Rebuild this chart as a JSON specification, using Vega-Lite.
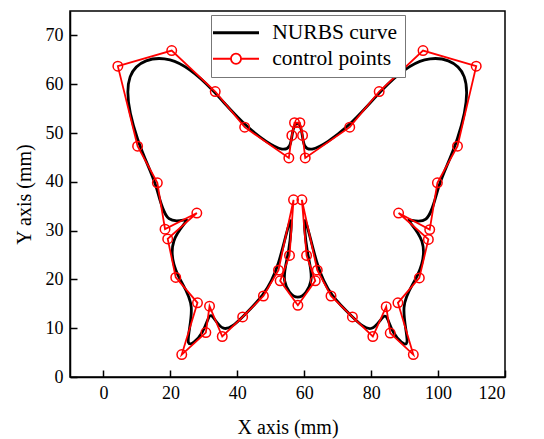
{
  "$schema": "https://vega.github.io/schema/vega-lite/v6.json",
  "width": 435,
  "height": 366,
  "autosize": "none",
  "padding": {"left": 70, "top": 11, "right": 39, "bottom": 62},
  "background": "white",
  "config": {
    "font": "Liberation Serif",
    "view": {"stroke": "black", "strokeWidth": 1.5},
    "axis": {
      "domainColor": "black",
      "domainWidth": 1.5,
      "tickColor": "black",
      "tickWidth": 1.5,
      "labelFont": "Liberation Serif",
      "labelFontSize": 18,
      "labelColor": "black",
      "titleFont": "Liberation Serif",
      "titleFontSize": 20,
      "titleFontWeight": "normal",
      "titleColor": "black",
      "grid": false
    }
  },
  "data": {
    "values": [
      {"i": 1, "x": 57.1, "y": 52.1},
      {"i": 2, "x": 56.3, "y": 49.5},
      {"i": 3, "x": 55.4, "y": 44.9},
      {"i": 4, "x": 42.2, "y": 51.2},
      {"i": 5, "x": 33.4, "y": 58.5},
      {"i": 6, "x": 20.4, "y": 66.9},
      {"i": 7, "x": 4.3, "y": 63.7},
      {"i": 8, "x": 10.2, "y": 47.3},
      {"i": 9, "x": 16.1, "y": 39.8},
      {"i": 10, "x": 18.4, "y": 30.3},
      {"i": 11, "x": 27.9, "y": 33.6},
      {"i": 12, "x": 19.2, "y": 28.3},
      {"i": 13, "x": 21.6, "y": 20.4},
      {"i": 14, "x": 28.1, "y": 15.2},
      {"i": 15, "x": 23.4, "y": 4.6},
      {"i": 16, "x": 30.6, "y": 9.1},
      {"i": 17, "x": 31.7, "y": 14.5},
      {"i": 18, "x": 35.5, "y": 8.3},
      {"i": 19, "x": 41.6, "y": 12.3},
      {"i": 20, "x": 47.8, "y": 16.6},
      {"i": 21, "x": 52.3, "y": 21.9},
      {"i": 22, "x": 56.8, "y": 36.3},
      {"i": 23, "x": 55.6, "y": 24.9},
      {"i": 24, "x": 52.8, "y": 19.7},
      {"i": 25, "x": 58.1, "y": 14.7},
      {"i": 26, "x": 63.3, "y": 19.7},
      {"i": 27, "x": 60.7, "y": 24.9},
      {"i": 28, "x": 59.3, "y": 36.3},
      {"i": 29, "x": 63.9, "y": 21.9},
      {"i": 30, "x": 68.0, "y": 16.6},
      {"i": 31, "x": 74.4, "y": 12.3},
      {"i": 32, "x": 80.5, "y": 8.3},
      {"i": 33, "x": 84.5, "y": 14.4},
      {"i": 34, "x": 85.7, "y": 9.0},
      {"i": 35, "x": 92.6, "y": 4.6},
      {"i": 36, "x": 88.0, "y": 15.2},
      {"i": 37, "x": 94.4, "y": 20.3},
      {"i": 38, "x": 97.1, "y": 28.2},
      {"i": 39, "x": 88.2, "y": 33.6},
      {"i": 40, "x": 97.5, "y": 30.2},
      {"i": 41, "x": 99.8, "y": 39.8},
      {"i": 42, "x": 105.8, "y": 47.3},
      {"i": 43, "x": 111.4, "y": 63.7},
      {"i": 44, "x": 95.5, "y": 66.9},
      {"i": 45, "x": 82.4, "y": 58.5},
      {"i": 46, "x": 73.6, "y": 51.2},
      {"i": 47, "x": 60.3, "y": 44.9},
      {"i": 48, "x": 59.5, "y": 49.5},
      {"i": 49, "x": 58.7, "y": 52.1}
    ]
  },
  "resolve": {"axis": {"x": "independent", "y": "independent"}},
  "layer": [
    {
      "mark": {"type": "line", "interpolate": "basis-closed", "strokeWidth": 2.8},
      "encoding": {
        "x": {
          "field": "x",
          "type": "quantitative",
          "scale": {"domain": [-10, 120], "nice": false, "zero": false},
          "axis": {"orient": "bottom", "values": [0, 20, 40, 60, 80, 100, 120], "title": "X axis (mm)", "ticks": false, "labelPadding": 7, "titlePadding": 15}
        },
        "y": {
          "field": "y",
          "type": "quantitative",
          "scale": {"domain": [0, 75], "nice": false},
          "axis": {"orient": "left", "values": [0, 10, 20, 30, 40, 50, 60, 70], "title": "Y axis (mm)", "ticks": false, "labelPadding": 7, "titlePadding": 11}
        },
        "order": {"field": "i", "type": "quantitative"},
        "color": {
          "datum": "NURBS curve",
          "type": "nominal",
          "scale": {"domain": ["NURBS curve", "control points"], "range": ["black", "#ff0000"]},
          "legend": {
            "title": null,
            "orient": "none",
            "legendX": 141,
            "legendY": 4,
            "strokeColor": "#777777",
            "fillColor": "white",
            "padding": 7,
            "labelFont": "Liberation Serif",
            "labelFontSize": 21.5,
            "labelColor": "black",
            "labelOffset": 25.5,
            "symbolOffset": 7.25,
            "symbolType": "M-1,0L1,0",
            "symbolSize": 2116,
            "symbolStrokeWidth": 3,
            "rowPadding": 3,
            "encode": {
              "legend": {
                "update": {
                  "stroke": {"value": "#777777"},
                  "strokeWidth": {"value": 1},
                  "fill": {"value": "white"}
                }
              },
              "symbols": {
                "update": {
                  "shape": {"signal": "datum.value === 'control points' ? 'M-1,0L-0.22,0M0.22,0L1,0M0.22,0A0.22,0.22,0,1,1,-0.22,0A0.22,0.22,0,1,1,0.22,0' : 'M-1,0L1,0'"},
                  "strokeWidth": {"signal": "datum.value === 'control points' ? 1.8 : 3"},
                  "fill": {"value": "transparent"}
                }
              }
            }
          }
        }
      }
    },
    {
      "mark": {"type": "line", "interpolate": "linear-closed", "strokeWidth": 1.8},
      "encoding": {
        "x": {"field": "x", "type": "quantitative", "axis": null},
        "y": {"field": "y", "type": "quantitative", "axis": null},
        "order": {"field": "i", "type": "quantitative"},
        "color": {"datum": "control points", "type": "nominal"}
      }
    },
    {
      "mark": {"type": "point", "shape": "circle", "filled": false, "color": "#ff0000", "size": 90, "strokeWidth": 1.5, "opacity": 1},
      "encoding": {
        "x": {
          "field": "x",
          "type": "quantitative",
          "axis": {"orient": "bottom", "offset": -7, "values": [0, 20, 40, 60, 80, 100, 120], "tickSize": 7, "labels": false, "domain": false, "title": null}
        },
        "y": {
          "field": "y",
          "type": "quantitative",
          "axis": {"orient": "left", "offset": -7, "values": [0, 10, 20, 30, 40, 50, 60, 70], "tickSize": 7, "labels": false, "domain": false, "title": null}
        }
      }
    }
  ]
}
